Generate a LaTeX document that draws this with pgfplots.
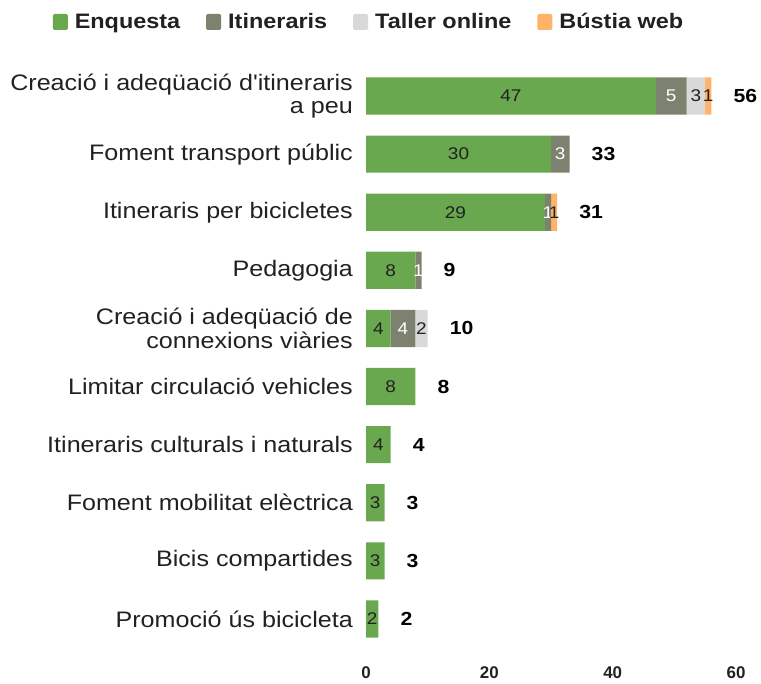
\documentclass[border=0pt]{standalone}
\usepackage{pgfplots}
\pgfplotsset{compat=1.18}
\usepackage{pgfplotstable}
\usepackage{fontspec}
\setmainfont{Liberation Sans}
\newfontfamily\catfont{Liberation Sans}[FakeStretch=1.12]
\definecolor{cEnq}{HTML}{6AA84F}
\definecolor{cIti}{HTML}{7D8270}
\definecolor{cTal}{HTML}{D9D9D9}
\definecolor{cBus}{HTML}{FFB366}
\definecolor{txt}{HTML}{212121}

% y: 9 = top category, 0 = bottom category
\pgfplotstableread{
y enq iti tal bus
9 47 5 3 1
8 30 3 0 0
7 29 1 0 1
6 8 1 0 0
5 4 4 2 0
4 8 0 0 0
3 4 0 0 0
2 3 0 0 0
1 3 0 0 0
0 2 0 0 0
}\bardata

\pgfplotstableread{
x y lab
23.5 9 47
15 8 30
14.5 7 29
4 6 8
2 5 4
4 4 8
2 3 4
1.5 2 3
1.5 1 3
1 0 2
}\labEnq

\pgfplotstableread{
x y lab
49.5 9 5
31.5 8 3
29.5 7 1
8.5 6 1
6 5 4
}\labIti

\pgfplotstableread{
x y lab
53.5 9 3
9 5 2
55.5 9 1
30.5 7 1
}\labOther

\pgfplotstableread{
x y lab
56 9 56
33 8 33
31 7 31
9 6 9
10 5 10
8 4 8
4 3 4
3 2 3
3 1 3
2 0 2
}\labTot

\begin{document}
\begin{tikzpicture}[x=1bp,y=1bp]
\useasboundingbox (0,0) rectangle (761,684);
\pgfplotsset{
  common/.style={
    at={(366bp,36bp)}, anchor=south west,
    scale only axis, width=370bp, height=581bp,
    xmin=0, xmax=60, ymin=-0.5, ymax=9.5,
    clip=false,
  }
}
\begin{axis}[common,
  xbar stacked, bar width=0.64,
  axis line style={draw=none},
  major tick length=0pt,
  xtick={0,20,40,60},
  ytick={0,...,9},
  yticklabels={
    {Promoció ús bicicleta},
    {Bicis compartides},
    {Foment mobilitat elèctrica},
    {Itineraris culturals i naturals},
    {Limitar circulació vehicles},
    {Creació i adeqüació de\\connexions viàries},
    {Pedagogia},
    {Itineraris per bicicletes},
    {Foment transport públic},
    {Creació i adeqüació d'itineraris\\a peu}
  },
  yticklabel style={align=right, inner sep=0pt, xshift=-13bp, text=txt,
    font=\catfont\fontsize{22.5}{24}\selectfont},
  /pgf/number format/assume math mode=true,
  xticklabel style={font=\bfseries\fontsize{17}{19}\selectfont, text=txt, yshift=-15bp},
  legend columns=4,
  legend style={draw=none, at={(0.008,1)}, anchor=center, yshift=45bp,
    font=\catfont\bfseries\fontsize{21}{23}\selectfont, text=txt,
    /tikz/every odd column/.append style={column sep=5bp},
    /tikz/every even column/.append style={column sep=24bp}},
  legend image code/.code={\fill[#1,draw=none,rounded corners=1.5bp] (0bp,-8bp) rectangle (15bp,8bp);},
]
\addplot[fill=cEnq, draw=none] table[x=enq, y=y] {\bardata};
\addlegendentry{Enquesta}
\addplot[fill=cIti, draw=none] table[x=iti, y=y] {\bardata};
\addlegendentry{Itineraris}
\addplot[fill=cTal, draw=none] table[x=tal, y=y] {\bardata};
\addlegendentry{Taller online}
\addplot[fill=cBus, draw=none] table[x=bus, y=y] {\bardata};
\addlegendentry{Bústia web}
\end{axis}
\begin{axis}[common, hide axis]
\addplot[only marks, mark=none, nodes near coords, point meta=explicit symbolic,
  every node near coord/.append style={anchor=center, text=txt, font=\catfont\fontsize{17}{19}\selectfont}]
  table[x=x, y=y, meta=lab] {\labEnq};
\addplot[only marks, mark=none, nodes near coords, point meta=explicit symbolic,
  every node near coord/.append style={anchor=center, text=white, font=\catfont\fontsize{17}{19}\selectfont}]
  table[x=x, y=y, meta=lab] {\labIti};
\addplot[only marks, mark=none, nodes near coords, point meta=explicit symbolic,
  every node near coord/.append style={anchor=center, text=txt, font=\catfont\fontsize{17}{19}\selectfont}]
  table[x=x, y=y, meta=lab] {\labOther};
\addplot[only marks, mark=none, nodes near coords, point meta=explicit symbolic,
  every node near coord/.append style={anchor=west, xshift=22bp, inner sep=0pt, text=black, font=\catfont\bfseries\fontsize{19}{21}\selectfont}]
  table[x=x, y=y, meta=lab] {\labTot};
\end{axis}
\end{tikzpicture}
\end{document}
